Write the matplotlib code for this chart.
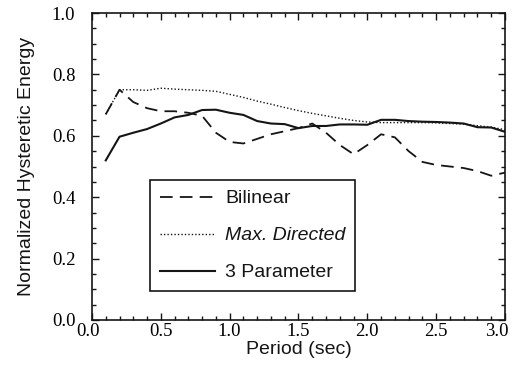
import matplotlib
matplotlib.use("Agg")
import matplotlib.pyplot as plt
import matplotlib.transforms as mtransforms
from matplotlib.ticker import MultipleLocator

period = [0.1, 0.2, 0.3, 0.4, 0.5, 0.6, 0.7, 0.8, 0.9, 1.0,
          1.1, 1.2, 1.3, 1.4, 1.5, 1.6, 1.7, 1.8, 1.9, 2.0,
          2.1, 2.2, 2.3, 2.4, 2.5, 2.6, 2.7, 2.8, 2.9, 3.0]

bilinear = [0.67, 0.75, 0.71, 0.69, 0.68, 0.68, 0.675, 0.665, 0.61, 0.58,
            0.575, 0.59, 0.605, 0.615, 0.625, 0.64, 0.61, 0.57, 0.54, 0.57,
            0.605, 0.595, 0.55, 0.515, 0.505, 0.50, 0.495, 0.485, 0.47, 0.48]

max_directed = [0.67, 0.75, 0.75, 0.748, 0.755, 0.752, 0.75, 0.748, 0.745, 0.735,
                0.725, 0.713, 0.703, 0.692, 0.682, 0.673, 0.665, 0.657, 0.65, 0.645,
                0.643, 0.643, 0.643, 0.643, 0.642, 0.64, 0.638, 0.633, 0.628, 0.62]

three_param = [0.52, 0.597, 0.61, 0.622, 0.64, 0.66, 0.668, 0.684, 0.685, 0.675,
               0.668, 0.648, 0.64, 0.638, 0.625, 0.632, 0.632, 0.637, 0.637, 0.636,
               0.652, 0.652, 0.648, 0.646, 0.645, 0.643, 0.64, 0.628, 0.627, 0.613]

x_ticks = [0.0, 0.5, 1.0, 1.5, 2.0, 2.5, 3.0]
y_ticks = [0.0, 0.2, 0.4, 0.6, 0.8, 1.0]

ink = "#151515"
sans = ["Liberation Sans", "DejaVu Sans"]
serif = ["Liberation Serif", "DejaVu Serif"]

fig = plt.figure(figsize=(5.15, 3.77), dpi=100)
ax = fig.add_axes([0.1786, 0.1512, 0.8020, 0.8143])

ax.plot(period, bilinear, color=ink, lw=1.3, linestyle=(0, (7, 4)), label="Bilinear")
ax.plot(period, max_directed, color=ink, lw=1.0, linestyle=(0, (1, 1.5)), label="Max. Directed")
ax.plot(period, three_param, color=ink, lw=1.5, linestyle="-", label="3 Parameter")

ax.set_xlim(0, 3.0)
ax.set_ylim(0, 1.0)
ax.set_xticks(x_ticks)
ax.set_yticks(y_ticks)
ax.set_xticklabels([f"{v:.1f}" for v in x_ticks], family=serif, fontsize=13.5)
ax.set_yticklabels([f"{v:.1f}" for v in y_ticks], family=serif, fontsize=13.5)
ax.xaxis.set_minor_locator(MultipleLocator(0.1))
ax.yaxis.set_minor_locator(MultipleLocator(0.05))
ax.tick_params(which="both", direction="in", top=True, right=True, color=ink, width=1.0)
ax.tick_params(which="major", length=5)
ax.tick_params(which="minor", length=3)
ax.tick_params(axis="x", which="major", pad=2)
ax.tick_params(axis="y", which="major", pad=12)
for s in ax.spines.values():
    s.set_linewidth(1.2)
    s.set_color(ink)

# nudge the end labels inward so they sit inside the figure
xlabels = ax.get_xticklabels()
xlabels[0].set_transform(xlabels[0].get_transform()
                         + mtransforms.ScaledTranslation(-4 / 100, 0, fig.dpi_scale_trans))
xlabels[-1].set_transform(xlabels[-1].get_transform()
                          + mtransforms.ScaledTranslation(-8 / 100, 0, fig.dpi_scale_trans))

ax.set_xlabel("Period (sec)", family=sans, fontsize=14, labelpad=1, color=ink)
ax.set_ylabel("Normalized Hysteretic Energy", family=sans, fontsize=14, labelpad=12, color=ink)

leg = ax.legend(loc="upper left", bbox_to_anchor=(0.1407, 0.456), borderaxespad=0,
                fancybox=False, edgecolor=ink, framealpha=1, handlelength=2.85,
                handletextpad=0.5, labelspacing=1.0, borderpad=0.5,
                prop={"family": sans, "size": 14})
leg.get_frame().set_linewidth(1.2)
leg.get_texts()[1].set_style("italic")
for t in leg.get_texts():
    t.set_color(ink)

fig.savefig("out.png", dpi=100, facecolor="white")
